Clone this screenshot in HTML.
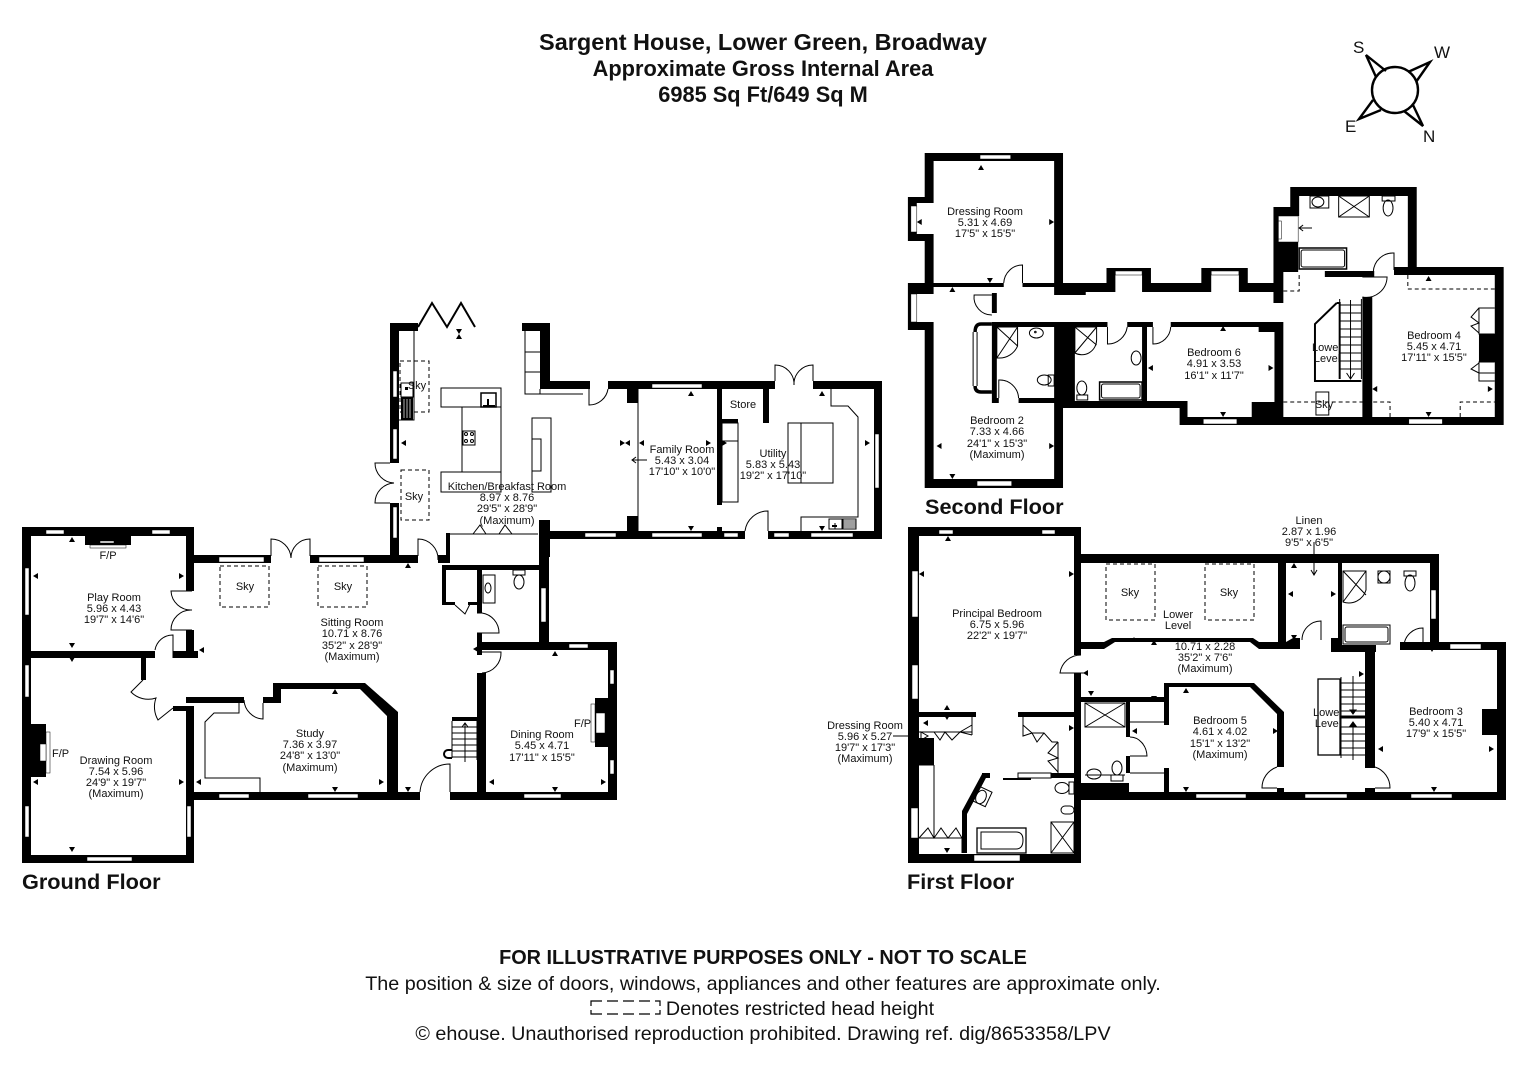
<!DOCTYPE html>
<html><head><meta charset="utf-8"><style>
html,body{margin:0;padding:0;background:#fff}
svg{display:block}
text{font-family:"Liberation Sans",sans-serif;fill:#111}
.r{font-size:11px;text-anchor:middle}
.l,.d{fill:none;stroke:#000;stroke-width:1}
.t{stroke-width:2}
.d{stroke-dasharray:4 3}
.w{fill:#fff;stroke:#000;stroke-width:.5}
.f{fill:#fff;stroke:#000;stroke-width:1}
.h{font-weight:bold;font-size:21.7px}
</style></head><body>
<svg width="1528" height="1080" viewBox="0 0 1528 1080" xmlns="http://www.w3.org/2000/svg">
<defs>
<clipPath id="c1"><rect x="1300" y="338" width="40" height="30"/></clipPath>
<clipPath id="c2"><rect x="1300" y="703" width="41" height="30"/></clipPath>
</defs>
<rect width="1528" height="1080" fill="#fff"/>

<!-- TITLE -->
<g text-anchor="middle" font-weight="bold">
<text x="763" y="50" font-size="23.5">Sargent House, Lower Green, Broadway</text>
<text x="763" y="76" font-size="21.8">Approximate Gross Internal Area</text>
<text x="763" y="102" font-size="21.8">6985 Sq Ft/649 Sq M</text>
</g>

<!-- COMPASS -->
<g fill="none" stroke="#000" stroke-width="2.4">
<circle cx="1395" cy="90" r="23"/>
<path d="M1376 77L1366 55L1386 71M1408 72L1430 62L1416 82M1413 105L1423 126L1404 111M1373 100L1359 119L1381 110"/>
</g>
<g font-size="17"><text x="1353" y="53">S</text><text x="1434" y="58">W</text><text x="1345" y="132">E</text><text x="1423" y="142">N</text></g>

<!-- GROUND FLOOR WALLS -->
<path fill="#000" d="
M22 527H194V536H22Z M22 527H31V863H22Z M22 855H194V863H22Z
M186 527H194V591H186Z M186 630H194V658H186Z M173 651H198V658H173Z M31 651H155V658H31Z
M141 658H146V680H141Z M186 706H194V863H186Z M173 706H194V711H173Z
M186 697H244V703H186Z M263 697H281V703H263Z M273 683H281V703H273Z M273 683H365V689H273Z
M365 683L398 712V720H387V716L360 689Z M387 712H398V800H387Z
M194 792H420V800H194Z M450 792H616V800H450Z
M477 673H486V800H477Z M477 642H617V650H477Z M608 642H617V800H608Z
M539 520H549V642H539Z M549 532H640V539H549Z
M477 633H482V655H477Z M477 570H482V613H477Z M442 565H549V570H442Z M442 565H446V605H442Z M442 602H455V605H442Z M468 602H477V605H468Z
M194 555H271V563H194Z M310 555H418V563H310Z M390 503H399V556H390Z M438 555H450V563H438Z M446 533H450V563H446Z
M452 717H477V721H452Z
M85 536H131V545H85Z M31 724H46V777H31Z M595 698H608V747H595Z
"/>
<!-- kitchen walls -->
<path fill="#000" d="
M390 323H399V463H390Z M390 323H418V331H390Z M522 323H550V331H522Z M540 323H550V389H540Z M540 381H590V389H540Z
M608 381H775V389H608Z M813 381H882V389H813Z M874 381H882V539H874Z M540 531H745V539H540Z M768 531H882V539H768Z
M539 520H550V557H539Z M627 389H638V403H627Z M627 516H638V531H627Z M717 389H722V505H717Z M722 419H738V423H722Z
M763 389H769V423H763Z M717 527H722V531H717Z
"/>
<!-- windows ground -->
<g class="w">
<rect x="46" y="530" width="18" height="4"/><rect x="152" y="530" width="18" height="4"/>
<rect x="25" y="568" width="4" height="47"/><rect x="25" y="665" width="4" height="32"/><rect x="25" y="806" width="4" height="31"/>
<rect x="187" y="806" width="4" height="31"/><rect x="87" y="857" width="45" height="4"/>
<rect x="219" y="557" width="45" height="5"/><rect x="319" y="557" width="45" height="5"/>
<rect x="219" y="794" width="30" height="4"/><rect x="308" y="794" width="50" height="4"/>
<rect x="569" y="644" width="19" height="4"/><rect x="610" y="670" width="4" height="14"/><rect x="610" y="760" width="4" height="14"/>
<rect x="524" y="794" width="37" height="4"/><rect x="541" y="588" width="5" height="34"/>
<rect x="90" y="545" width="36" height="3"/><rect x="100" y="541" width="14" height="2"/>
<rect x="46" y="732" width="4" height="41"/><rect x="40" y="744" width="6" height="17"/>
<rect x="591" y="704" width="4" height="38"/><rect x="596" y="713" width="9" height="20"/>
<rect x="393" y="371" width="4" height="26"/><rect x="393" y="429" width="4" height="30"/><rect x="393" y="507" width="4" height="31"/>
<rect x="652" y="384" width="50" height="4"/><rect x="652" y="533" width="50" height="4"/><rect x="585" y="533" width="31" height="4"/>
<rect x="724" y="533" width="14" height="4"/><rect x="774" y="533" width="15" height="4"/><rect x="811" y="533" width="42" height="4"/>
<rect x="875" y="434" width="4" height="54"/>
</g>
<!-- skies -->
<g class="d">
<rect x="220" y="566" width="49" height="41"/><rect x="318" y="566" width="49" height="41"/>
<rect x="400" y="361" width="29" height="51"/><rect x="401" y="470" width="28" height="50"/>
</g>
<!-- ground details -->
<g class="l">
<!-- play doors -->
<path d="M192 591H171A20 20 0 0 0 192 610A20 20 0 0 0 171 630H192"/>
<path d="M155 650A18 18 0 0 1 173 635V658"/>
<path d="M143 680L131 692A24 24 0 0 0 156 698A26 26 0 0 0 158 720L173 708"/>
<path d="M263 703V719A20 20 0 0 1 244 700"/>
<path d="M271 556V539A20 20 0 0 1 291 558A19 19 0 0 1 310 539V556"/>
<path d="M418 556V539A20 20 0 0 1 438 560"/>
<path d="M477 613H482A20 20 0 0 1 499 633H477"/>
<path d="M482 652H501A20 20 0 0 1 482 673"/>
<path d="M450 792V764A30 30 0 0 0 420 792"/>
<path d="M455 605L465 614L470 604"/>
<path d="M239 703V713H214L205 722V778H260V792"/>
<!-- kitchen side double doors -->
<path d="M390 463H375A20 20 0 0 0 394 483A20 20 0 0 0 375 503H390"/>
<!-- stairs -->
<path d="M452 721V758M477 721V760M452 727H477M452 733H477M452 739H477M452 745H477M452 751H477M452 757H477M465 762V723M462 727L465 723L468 727"/>
<path class="t" d="M452 750H448A4 4 0 0 0 448 758H452"/>
<!-- wc -->
<rect x="483" y="575" width="12" height="28"/><ellipse cx="488" cy="588" rx="3" ry="5"/>
<rect x="513" y="570" width="12" height="5"/><ellipse cx="519" cy="582" rx="5" ry="7"/>
<!-- kitchen lines -->
<path class="t" d="M418 327L432 303L447 327L461 303L475 327"/>
<path d="M414 331V420H399"/>
<rect x="441" y="388" width="60" height="19"/><rect x="462" y="407" width="39" height="65"/><rect x="441" y="472" width="60" height="20"/>
<rect x="481" y="393" width="15" height="14" stroke-width="1.5"/><rect x="463" y="431" width="12" height="14"/>
<circle cx="466" cy="434" r="1.5"/><circle cx="472" cy="434" r="1.5"/><circle cx="466" cy="441" r="1.5"/><circle cx="472" cy="441" r="1.5"/>
<rect x="532" y="418" width="19" height="74"/><rect x="532" y="439" width="9" height="32"/>
<path d="M525 331V394H583M525 352H540M525 372H540M540 389V394"/>
<path d="M638 389V531"/>
<path d="M589 389V405A19 19 0 0 0 608 389"/>
<path d="M768 531V511A23 23 0 0 0 745 531"/>
<path d="M775 381V365A19 19 0 0 1 794 385A19 19 0 0 1 813 365V381"/>
<rect x="722" y="423" width="16" height="79"/><path d="M722 441H738"/>
<rect x="788" y="423" width="45" height="60"/><path d="M801 423V483"/>
<path d="M831 389V406H848L858 417V517H801V531"/>
<rect x="829" y="519" width="13" height="10"/><path d="M835 523V529"/><rect x="843" y="519" width="13" height="10"/><path stroke-width=".8" d="M843 521H856M843 523H856M843 525H856M843 527H856"/>
<path d="M447 534H538M473 534L480 525L486 534M499 534L505 525L512 534"/>
<path d="M632 460H647M636 457L632 460L636 463"/>
</g>
<rect x="401" y="383" width="12" height="14" fill="#fff" stroke="#000"/><rect x="401" y="397" width="12" height="23" fill="#000"/><g stroke="#fff" stroke-width=".7"><path d="M404 399V418M407 399V418M410 399V418"/></g>
<rect x="405" y="387" width="3" height="3" fill="#000"/>
<path fill="#000" d="M483 405h12v2h-12zM487 399h2v8h-2zM832 525h5v2h-5z"/>

<!-- MARKERS ground -->
<path fill="#000" d="
M72 537l3 5h-6zM33 576l5-3v6zM184 576l-5-3v6zM72 648l3-5h-6zM72 662l3-5h-6zM33 782l5-3v6zM184 782l-5-3v6zM72 852l3-5h-6z
M199 650l5-3v6zM196 782l5-3v6zM335 689l3 5h-6zM335 792l3-5h-6zM384 782l-5-3v6zM408 563l3 5h-6zM408 792l3-5h-6z
M459 565l3 5h-6zM473 649l5-3v6zM555 651l3 5h-6zM489 782l5-3v6zM606 782l-5-3v6zM555 792l3-5h-6z
M401 443l5-3v6zM459 334l3 5h-6zM459 334l3-5h-6zM625 443l-5-3v6zM625 443l5-3v6zM639 443l5-3v6zM691 391l3 5h-6zM691 531l3-5h-6zM711 443l-5-3v6zM727 443l-5-3v6zM822 391l3 5h-6zM822 531l3-5h-6zM870 443l-5-3v6z"/>

<!-- SECOND FLOOR (x-compressed to reference scale) -->
<g transform="translate(900 0) scale(.988 1) translate(-900 0)">
<path fill="#000" d="
M925 153H1065V161H925Z M925 153H934V197H925Z M908 197H934V203H908Z M908 197H917V241H908Z M908 234H934V241H908Z M925 234H934V283H925Z
M1056 153H1065V295H1056Z M934 283H1005V287H934Z M1024 283H1056V287H1024Z M908 283H934V294H908Z M908 283H917V330H908Z M908 322H934V330H908Z
M925 322H934V488H925Z M925 479H1065V488H925Z M1056 402H1065V488H1056Z
M1056 283H1088V295H1056Z M1065 283H1109V292H1065Z M1109 268H1154V275H1109Z M1109 268H1118V292H1109Z M1145 268H1154V292H1145Z M1154 283H1205V292H1154Z
M1205 268H1252V275H1205Z M1205 268H1215V292H1205Z M1243 268H1252V292H1243Z M1252 283H1278V292H1252Z M1278 207H1288V303H1278Z
M1280 207H1304V216H1280Z M1295 187H1304V216H1295Z M1295 187H1423V196H1295Z M1414 187H1423V275H1414Z M1280 242H1303V272H1280Z
M1400 267H1511V275H1400Z M1502 267H1511V425H1502Z M1183 417H1511V425H1183Z M1183 402H1191V425H1183Z M1065 401H1191V408H1065Z M1256 402H1279V417H1256Z
M1279 322H1288V425H1279Z M1174 322H1288V327H1174Z M1263 327H1279V332H1263Z M993 322H1110V327H993Z M1130 322H1156V327H1130Z
M1056 325H1077V402H1056Z M1145 327H1150V402H1145Z M993 293H998V313H993Z M993 322H998V403H993Z M1020 398H1056V403H1020Z M993 398H1000V403H993Z
M1368 297H1378V425H1368Z M1330 271H1380V277H1330Z M1486 334H1502V362H1486Z
"/>
<g class="w">
<rect x="981" y="155" width="31" height="4"/><rect x="911" y="206" width="6" height="26"/><rect x="911" y="294" width="6" height="28"/>
<rect x="1118" y="271" width="27" height="4"/><rect x="1215" y="271" width="28" height="4"/><rect x="978" y="481" width="35" height="5"/>
<rect x="1207" y="419" width="34" height="5"/><rect x="1415" y="419" width="34" height="5"/>
<rect x="1283" y="216" width="20" height="26"/><rect x="1283" y="221" width="3" height="18"/>
</g>
<g class="l">
<path d="M1024 283V265A19 19 0 0 0 1005 283"/>
<path d="M993 295H975A18 18 0 0 0 993 315"/>
<path d="M1000 398V380A19 19 0 0 1 1020 398"/>
<path d="M1110 327V344A20 20 0 0 0 1130 327"/>
<path d="M1156 327V344A18 18 0 0 0 1174 327"/>
<path d="M1400 270V253A20 20 0 0 0 1379 272"/>
<path d="M1368 277H1393A21 21 0 0 1 1368 297"/>
<!-- bed2 en suite -->
<path d="M998 327H1019V346A20 20 0 0 1 1000 358H998ZM998 327L1019 346M1019 327L998 358"/>
<ellipse cx="1038" cy="333" rx="7" ry="5"/><circle cx="1037" cy="332" r=".8"/>
<ellipse cx="1046" cy="380" rx="7" ry="5"/><rect x="1050" y="375" width="6" height="11"/>
<path d="M1077 327H1099V340A15 15 0 0 1 1077 353ZM1077 327L1099 345M1099 327L1077 353"/>
<ellipse cx="1139" cy="358" rx="5" ry="7"/><ellipse cx="1084" cy="388" rx="5" ry="7"/><rect x="1079" y="395" width="11" height="5"/>
<rect x="1102" y="382" width="43" height="18" stroke-width="1.5"/><rect x="1104" y="384" width="39" height="14" rx="2"/>
<rect x="1315" y="196" width="19" height="12"/><ellipse cx="1323" cy="202" rx="6" ry="5"/>
<rect x="1344" y="196" width="31" height="21"/><path d="M1344 196L1375 217M1375 196L1344 217"/>
<rect x="1388" y="196" width="13" height="5"/><ellipse cx="1394" cy="208" rx="5" ry="8"/>
<rect x="1304" y="248" width="48" height="21" stroke-width="1.5"/><rect x="1306" y="250" width="44" height="17" rx="2"/>
<path d="M1304 228H1317M1308 225L1304 228L1308 231"/>
<!-- stairs second -->
<path d="M1345 299V379M1367 299V379M1345 305H1367M1345 313H1367M1345 321H1367M1345 329H1367M1345 337H1367M1345 345H1367M1345 353H1367M1345 361H1367M1345 369H1367M1356 300V379M1352 373L1356 379L1360 373"/>
<path class="t" d="M1342 303L1320 324V381H1367M1342 303H1345V379"/>
<rect x="1321" y="392" width="13" height="23"/>
<!-- bed4 wardrobes -->
<path d="M1502 308H1486V334H1502M1486 308L1478 317L1486 323L1478 326L1486 333M1502 362H1486V381H1502M1486 363L1478 369L1486 373M1486 373H1502"/>
<!-- bracket sides -->
<path d="M974 332V386M978 332V386"/>
</g>
<path fill="none" stroke="#000" stroke-width="3.5" d="M993 324H982Q976 324 976 332M976 386Q976 392 982 392H993"/>
<path class="d" d="M1414 275V289H1502M1288 402H1396V417M1467 417V402H1502M1288 291H1304V275"/>
<path fill="#000" d="M982 165l3 5h-6zM917 222l5-3v6zM1056 222l-5-3v6zM991 283l3-5h-6zM953 287l3 5h-6zM937 446l5-3v6zM1056 446l-5-3v6zM953 479l3-5h-6z
M1227 326l3 5h-6zM1151 368l5-3v6zM1278 368l-5-3v6zM1227 417l3-5h-6zM1435 276l3 5h-6zM1378 389l5-3v6zM1500 389l-5-3v6zM1435 417l3-5h-6z"/>
</g>

<!-- FIRST FLOOR WALLS -->
<path fill="#000" d="
M908 527H1081V536H908Z M908 527H919V863H908Z M908 854H1081V863H908Z M1074 527H1081V655H1074Z M1074 673H1081V863H1074Z
M1081 554H1439V563H1081Z M1430 554H1439V643H1430Z M1400 642H1506V650H1400Z M1497 642H1506V800H1497Z M1081 792H1506V800H1081Z
M1278 563H1286V642H1278Z M1081 642H1104L1112 638H1253L1259 642H1293V649H1259L1250 642H1115L1104 649H1081Z M1293 638H1300V649H1286V642Z
M1331 638H1342V652H1331Z M1331 645H1376V652H1331Z M1338 563H1342V643H1338Z M1365 650H1375V768H1365Z
M1164 683H1169V725H1164Z M1164 768H1169V792H1164Z M1164 683H1254V687H1164Z M1254 683L1284 712V716H1277V714L1250 687Z M1277 712H1284V767H1277Z M1277 788H1284V792H1277Z
M1076 697H1164V702H1076Z M1126 702H1130V737H1126Z M1126 756H1130V773H1126Z M1081 783H1129V800H1081Z
M919 712H976V717H919Z M1018 712H1074V717H1018Z M919 738H934V765H919Z M982 773H990V778H982ZM962 811L982 774H988L967 814V853H962Z
M1003 778H1031V780H1003Z M1051 773H1074V778H1051Z M1365 788H1375V792H1365Z M1482 709H1497V735H1482Z M1365 757H1375V768H1365Z
"/>
<g class="w">
<rect x="939" y="530" width="14" height="4"/><rect x="1042" y="530" width="13" height="4"/>
<rect x="912" y="571" width="6" height="46"/><rect x="912" y="665" width="6" height="34"/><rect x="911" y="808" width="7" height="30"/>
<rect x="974" y="855" width="46" height="6"/><rect x="1196" y="794" width="50" height="4"/><rect x="1305" y="794" width="42" height="4"/>
<rect x="1411" y="794" width="41" height="4"/><rect x="1450" y="644" width="31" height="5"/><rect x="1431" y="590" width="5" height="29"/>
<rect x="1018" y="773" width="33" height="5" stroke-width="1"/>
</g>
<g class="d">
<rect x="1106" y="564" width="49" height="56"/><rect x="1205" y="564" width="49" height="56"/>
</g>
<g class="l">
<path d="M1084 673H1060A21 21 0 0 1 1081 655"/>
<path d="M1321 640V621A19 19 0 0 0 1302 640"/>
<path d="M1423 645V628A19 19 0 0 0 1404 645"/>
<path d="M1130 737A17 20 0 0 1 1147 756H1130"/>
<path d="M1277 767A22 22 0 0 0 1262 788H1277"/>
<path d="M1375 767A22 22 0 0 1 1390 788H1375"/>
<!-- lines bed5 -->
<path d="M1130 722H1164M1130 773H1164"/>
<!-- shower etc -->
<rect x="1085" y="703" width="40" height="24"/><path d="M1085 703L1125 727M1125 703L1085 727"/>
<ellipse cx="1094" cy="774" rx="7" ry="5"/><path d="M1085 775H1125"/>
<ellipse cx="1117" cy="768" rx="5" ry="7"/><rect x="1111" y="775" width="12" height="6"/>
<path d="M1343 571H1366V590A18 18 0 0 1 1343 602ZM1343 571L1366 595M1366 571L1343 602"/>
<ellipse cx="1384" cy="577" rx="6" ry="6"/><rect x="1378" y="571" width="12" height="12"/>
<ellipse cx="1410" cy="583" rx="5" ry="8"/><rect x="1404" y="571" width="12" height="5"/>
<rect x="1343" y="625" width="47" height="19"/><rect x="1345" y="627" width="43" height="15" rx="2"/>
<!-- stairs first -->
<rect x="1318" y="679" width="22" height="76" stroke-width="1.3"/>
<path d="M1341 677V758M1341 683H1365M1341 690H1365M1341 697H1365M1341 704H1365M1341 711H1365M1341 727H1365M1341 734H1365M1341 741H1365M1341 748H1365M1341 755H1365M1353 676V710M1353 725V760"/>
<path stroke-width="3" d="M1341 717H1365"/>
<path fill="#000" d="M1350 710l3 4l3-4zM1350 726l3-4l3 4z"/>
<!-- principal bath -->
<rect x="977" y="828" width="49" height="25" stroke-width="1.3"/><path d="M981 832H1016Q1023 832 1023 840Q1023 849 1016 849H981Z"/>
<rect x="1051" y="822" width="23" height="31"/><path d="M1051 822L1074 853M1074 822L1051 853"/>
<rect x="973" y="788" width="16" height="16" transform="rotate(25 981 797)"/><ellipse cx="981" cy="797" rx="5" ry="7" transform="rotate(25 981 797)"/>
<ellipse cx="1062" cy="788" rx="7" ry="5.5"/><rect x="1069" y="782" width="5" height="12"/>
<rect x="1061" y="806" width="13" height="8" rx="4"/>
<!-- wardrobes -->
<path d="M934 765V838"/><path d="M919 838H962M962 838V853"/><path d="M919 765H934"/>
<path d="M919 838L928 828L934 838L941 828L948 838L956 828L962 838"/>
<path d="M919 732H972M972 717V735M934 732L940 740L945 732L952 740L960 732L972 725M960 732L972 735"/>
<path d="M1023 717V736L1032 733L1023 725M1032 733L1037 742L1044 733L1052 742H1058M1058 742V773M1058 742L1048 753L1058 758L1048 761L1058 772M1044 733L1032 733"/>
<path d="M893 736H916"/><path d="M921 732L928 736L921 740Z"/>
<path d="M1314 542V574M1311 570L1314 575L1317 570"/>
</g>
<path fill="#000" d="M948 536l3 5h-6zM919 574l5-3v6zM1074 574l-5-3v6zM947 705l3 5h-6zM947 720l3-5h-6zM923 723l5-3v6zM1074 728l-5-3v6zM947 853l3-5h-6z
M1091 696l3-5h-6zM1083 673l5-3v6zM1154 701l3-5h-6zM1186 688l3 5h-6zM1132 731l5-3v6zM1278 731l-5-3v6zM1186 792l3-5h-6z
M1154 640l3 5h-6zM1294 563l3 5h-6zM1294 640l3-5h-6zM1288 594l5-3v6zM1336 594l-5-3v6zM1364 674l-5-3v6zM1432 652l3-5h-6zM1378 749l5-3v6zM1494 749l-5-3v6zM1434 792l3-5h-6zM1134 637l3 5h-6z"/>

<!-- ROOM LABELS -->
<g>
<text class="r" x="114" y="601">Play Room</text><text class="r" x="114" y="612">5.96 x 4.43</text><text class="r" x="114" y="623">19'7" x 14'6"</text>
<text class="r" x="116" y="764">Drawing Room</text><text class="r" x="116" y="775">7.54 x 5.96</text><text class="r" x="116" y="786">24'9" x 19'7"</text><text class="r" x="116" y="797">(Maximum)</text>
<text class="r" x="352" y="626">Sitting Room</text><text class="r" x="352" y="637">10.71 x 8.76</text><text class="r" x="352" y="649">35'2" x 28'9"</text><text class="r" x="352" y="660">(Maximum)</text>
<text class="r" x="310" y="737">Study</text><text class="r" x="310" y="748">7.36 x 3.97</text><text class="r" x="310" y="759">24'8" x 13'0"</text><text class="r" x="310" y="771">(Maximum)</text>
<text class="r" x="542" y="738">Dining Room</text><text class="r" x="542" y="749">5.45 x 4.71</text><text class="r" x="542" y="761">17'11" x 15'5"</text>
<text class="r" x="108" y="559">F/P</text><text x="52" y="757" font-size="11">F/P</text><text x="574" y="727" font-size="11">F/P</text>
<text class="r" x="245" y="590">Sky</text><text class="r" x="343" y="590">Sky</text>
<text class="r" x="414" y="500">Sky</text><text class="r" x="417" y="389">Sky</text>
<text class="r" x="507" y="490">Kitchen/Breakfast Room</text><text class="r" x="507" y="501">8.97 x 8.76</text><text class="r" x="507" y="512">29'5" x 28'9"</text><text class="r" x="507" y="524">(Maximum)</text>
<text class="r" x="682" y="453">Family Room</text><text class="r" x="682" y="464">5.43 x 3.04</text><text class="r" x="682" y="475">17'10" x 10'0"</text>
<text class="r" x="773" y="457">Utility</text><text class="r" x="773" y="468">5.83 x 5.43</text><text class="r" x="773" y="479">19'2" x 17'10"</text>
<text class="r" x="743" y="408">Store</text>

<text class="r" x="985" y="215">Dressing Room</text><text class="r" x="985" y="226">5.31 x 4.69</text><text class="r" x="985" y="237">17'5" x 15'5"</text>
<text class="r" x="997" y="424">Bedroom 2</text><text class="r" x="997" y="435">7.33 x 4.66</text><text class="r" x="997" y="447">24'1" x 15'3"</text><text class="r" x="997" y="458">(Maximum)</text>
<text class="r" x="1214" y="356">Bedroom 6</text><text class="r" x="1214" y="367">4.91 x 3.53</text><text class="r" x="1214" y="379">16'1" x 11'7"</text>
<text class="r" x="1434" y="339">Bedroom 4</text><text class="r" x="1434" y="350">5.45 x 4.71</text><text class="r" x="1434" y="361">17'11" x 15'5"</text>
<g clip-path="url(#c1)"><text class="r" x="1327" y="351">Lower</text><text class="r" x="1327" y="362">Level</text></g><text class="r" x="1324" y="408">Sky</text>

<text class="r" x="997" y="617">Principal Bedroom</text><text class="r" x="997" y="628">6.75 x 5.96</text><text class="r" x="997" y="639">22'2" x 19'7"</text>
<text class="r" x="865" y="729">Dressing Room</text><text class="r" x="865" y="740">5.96 x 5.27</text><text class="r" x="865" y="751">19'7" x 17'3"</text><text class="r" x="865" y="762">(Maximum)</text>
<text class="r" x="1130" y="596">Sky</text><text class="r" x="1229" y="596">Sky</text>
<text class="r" x="1178" y="618">Lower</text><text class="r" x="1178" y="629">Level</text>
<text class="r" x="1205" y="650">10.71 x 2.28</text><text class="r" x="1205" y="661">35'2" x 7'6"</text><text class="r" x="1205" y="672">(Maximum)</text>
<text class="r" x="1220" y="724">Bedroom 5</text><text class="r" x="1220" y="735">4.61 x 4.02</text><text class="r" x="1220" y="747">15'1" x 13'2"</text><text class="r" x="1220" y="758">(Maximum)</text>
<text class="r" x="1436" y="715">Bedroom 3</text><text class="r" x="1436" y="726">5.40 x 4.71</text><text class="r" x="1436" y="737">17'9" x 15'5"</text>
<text class="r" x="1309" y="524">Linen</text><text class="r" x="1309" y="535">2.87 x 1.96</text><text class="r" x="1309" y="546">9'5" x 6'5"</text>
<g clip-path="url(#c2)"><text class="r" x="1328" y="716">Lower</text><text class="r" x="1328" y="727">Level</text></g>
</g>

<!-- FLOOR TITLES -->
<text class="h" x="22" y="889">Ground Floor</text>
<text class="h" x="925" y="514">Second Floor</text>
<text class="h" x="907" y="889">First Floor</text>

<!-- FOOTER -->
<g text-anchor="middle">
<text x="763" y="964" font-size="19.87" font-weight="bold">FOR ILLUSTRATIVE PURPOSES ONLY - NOT TO SCALE</text>
<text x="763" y="990" font-size="19.75">The position &amp; size of doors, windows, appliances and other features are approximate only.</text>
<text x="800" y="1015" font-size="19.7">Denotes restricted head height</text>
<text x="763" y="1040" font-size="19.75">© ehouse. Unauthorised reproduction prohibited. Drawing ref. dig/8653358/LPV</text>
</g>
<path fill="none" stroke="#000" stroke-width="1.2" d="M591 1006V1001H602M607 1001H618M623 1001H634M639 1001H650M655 1001H660V1006M591 1010V1014H602M607 1014H618M623 1014H634M639 1014H650M655 1014H660V1010"/>
</svg>
</body></html>
